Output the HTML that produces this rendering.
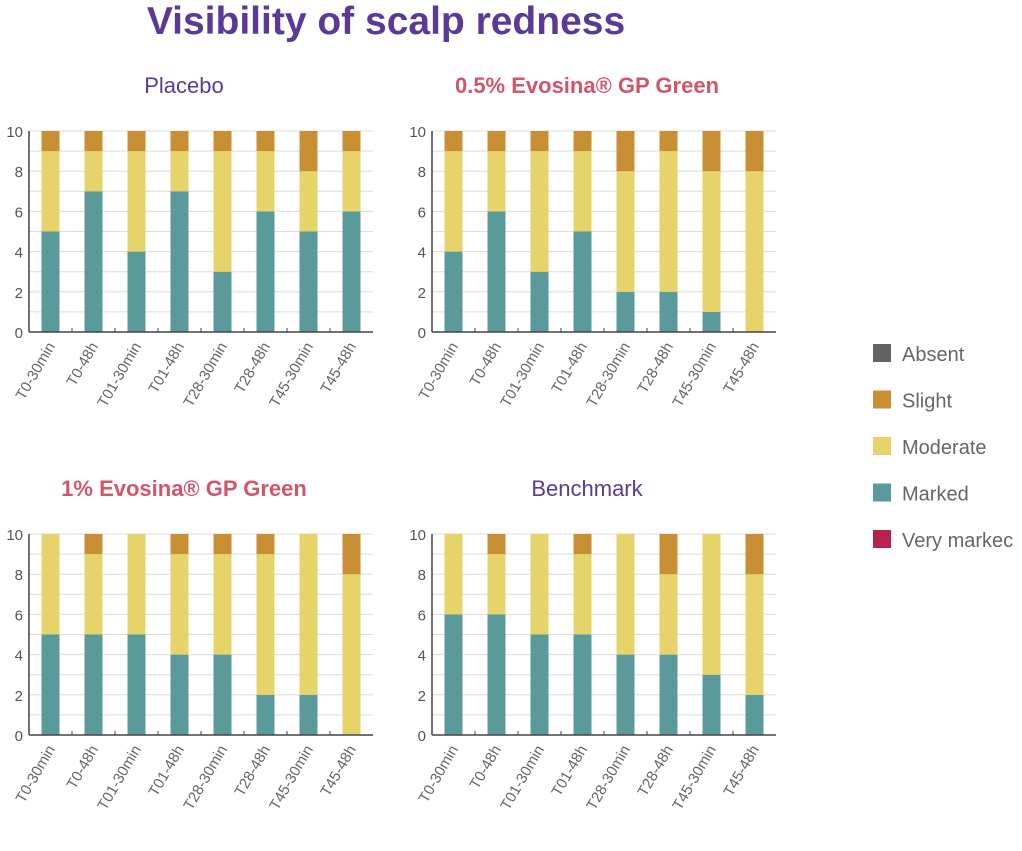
<!DOCTYPE html><html><head><meta charset="utf-8"><style>
body{margin:0;width:1022px;height:846px;background:#fff;overflow:hidden;font-family:"Liberation Sans","DejaVu Sans",sans-serif}
</style></head><body>
<svg width="1022" height="846" xmlns="http://www.w3.org/2000/svg" id="svg">
<text x="386" y="34" text-anchor="middle" font-size="39" font-weight="bold" fill="#5b3a97">Visibility of scalp redness</text>
<g id="legend"></g>
</svg>
<script>
const categories=["T0-30min","T0-48h","T01-30min","T01-48h","T28-30min","T28-48h","T45-30min","T45-48h"];
const placeboMarked=[5,7,4,7,3,6,5,6];
const placeboModerate=[4,2,5,2,6,3,3,3];
const placeboSlight=[1,1,1,1,1,1,2,1];
const evo05Marked=[4,6,3,5,2,2,1,0];
const evo05Moderate=[5,3,6,4,6,7,7,8];
const evo05Slight=[1,1,1,1,2,1,2,2];
const evo1Marked=[5,5,5,4,4,2,2,0];
const evo1Moderate=[5,4,5,5,5,7,8,8];
const evo1Slight=[0,1,0,1,1,1,0,2];
const benchMarked=[6,6,5,5,4,4,3,2];
const benchModerate=[4,3,5,4,6,4,7,6];
const benchSlight=[0,1,0,1,0,2,0,2];
const yTicks=[0,2,4,6,8,10];
const legendLabels=["Absent","Slight","Moderate","Marked","Very markec"];
const legendColors=["#666262","#c98f35","#e6d36a","#5b9a9b","#b8234e"];
const NS="http://www.w3.org/2000/svg";
const svg=document.getElementById('svg');
function mk(t,a,p){const e=document.createElementNS(NS,t);for(const k in a)e.setAttribute(k,a[k]);(p||svg).appendChild(e);return e;}
const panels=[
 {key:"placebo",title:"Placebo",tc:"#5b3a97",tw:"normal",x0:29,yTop:131,yBot:332,m:placeboMarked,mo:placeboModerate,s:placeboSlight},
 {key:"evosina-05",title:"0.5% Evosina® GP Green",tc:"#d2566a",tw:"bold",x0:432,yTop:131,yBot:332,m:evo05Marked,mo:evo05Moderate,s:evo05Slight},
 {key:"evosina-1",title:"1% Evosina® GP Green",tc:"#d2566a",tw:"bold",x0:29,yTop:534,yBot:735,m:evo1Marked,mo:evo1Moderate,s:evo1Slight},
 {key:"benchmark",title:"Benchmark",tc:"#5b3a97",tw:"normal",x0:432,yTop:534,yBot:735,m:benchMarked,mo:benchModerate,s:benchSlight}];
panels.forEach(p=>{
 const g=mk('g',{});
 
 
 const slot=43,W=slot*categories.length;
 const y=v=>p.yBot-(p.yBot-p.yTop)*v/10;
 const x=i=>p.x0+slot*i+slot/2;
 const t=mk('text',{x:p.x0+W/2-17,y:p.yTop-38,'text-anchor':'middle','font-size':22,fill:p.tc,'font-weight':p.tw},g);
 t.textContent=p.title;
 
 
 for(let v=1;v<=10;v++){const l=mk('line',{x1:p.x0,x2:p.x0+W,y1:y(v),y2:y(v),stroke:'#dcdcdc','stroke-width':1},g);
  
  }
 yTicks.forEach(v=>{const tt=mk('text',{x:p.x0-6,y:y(v)+6,'text-anchor':'end','font-size':15,fill:'#555'},g);tt.textContent=v;
  
  });
 categories.forEach((c,i)=>{
  const bw=18,bx=x(i)-bw/2;
  const segs=[[0,p.m[i],'#5b9a9b','marked'],[p.m[i],p.m[i]+p.mo[i],'#e6d36a','moderate'],[p.m[i]+p.mo[i],p.m[i]+p.mo[i]+p.s[i],'#c98f35','slight']];
  segs.forEach(s=>{if(s[1]>s[0]){const r=mk('rect',{x:bx,y:y(s[1]),width:bw,height:y(s[0])-y(s[1]),fill:s[2]},g);
   
   }});
  if(i>0){mk('line',{x1:p.x0+slot*i,x2:p.x0+slot*i,y1:p.yBot,y2:p.yBot-4,stroke:'#444'},g);}
  const lx=x(i)+5,ly=p.yBot+14;
  const lt=mk('text',{x:lx,y:ly,'text-anchor':'end','font-size':15,fill:'#666',transform:`rotate(-60 ${lx} ${ly})`},g);
  lt.textContent=c;
  
  
 });
 mk('line',{x1:p.x0,x2:p.x0,y1:p.yTop,y2:p.yBot,stroke:'#444','stroke-width':1.5},g);
 mk('line',{x1:p.x0,x2:p.x0+W,y1:p.yBot,y2:p.yBot,stroke:'#444','stroke-width':1.5},g);
});
const lg=document.getElementById('legend');
legendLabels.forEach((l,i)=>{const yy=354+i*46.5;
 const r=mk('rect',{x:873,y:yy-10,width:18,height:18,fill:legendColors[i]},lg);
 
 
 const t=mk('text',{x:902,y:yy+7,'font-size':20,fill:'#666'},lg);t.textContent=l;
 
 });
</script></body></html>
